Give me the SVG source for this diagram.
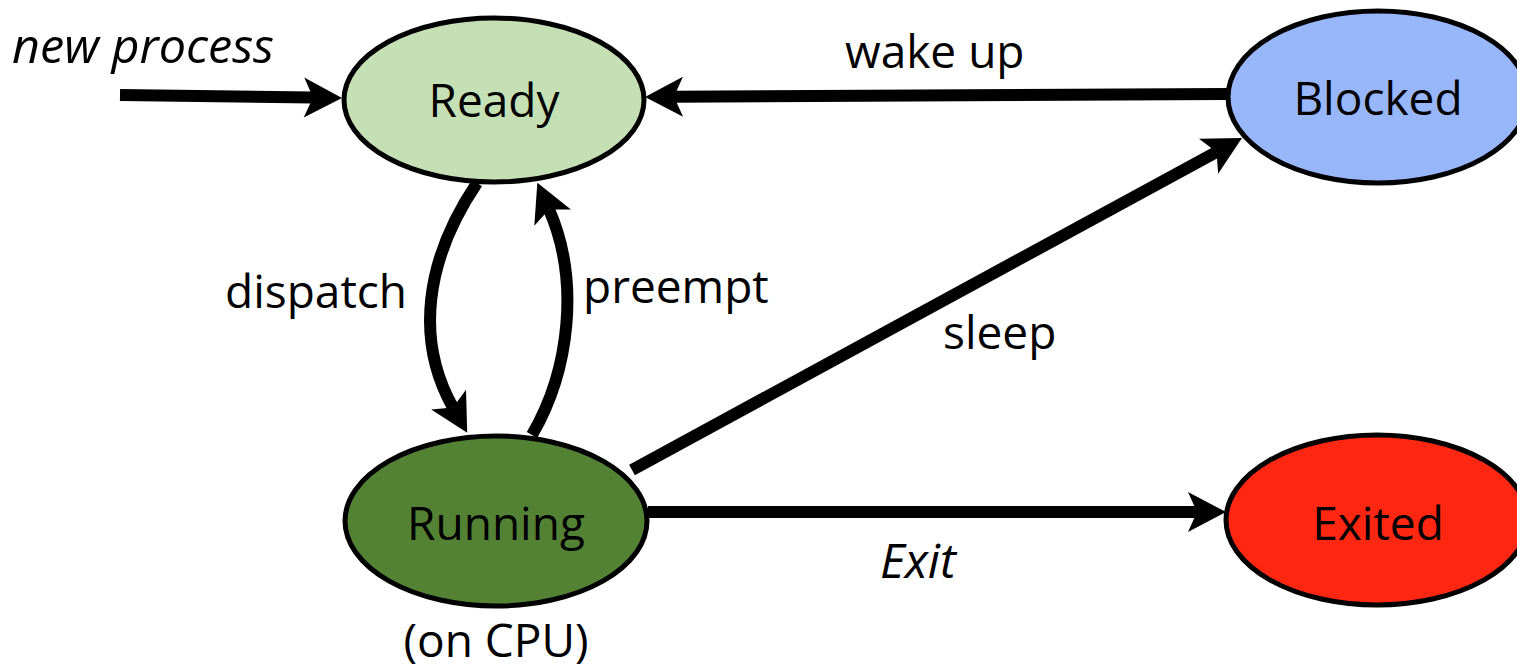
<svg xmlns="http://www.w3.org/2000/svg" width="1517" height="671" viewBox="0 0 1517 671">
  <style>
    .state { stroke: #000; stroke-width: 5; }
    .label { font-family: "Open Sans", "Noto Sans", "Liberation Sans", sans-serif; font-size: 46px; fill: #000; }
    .name { text-anchor: middle; }
    .it { font-style: italic; font-size: 48px; }
    .edge { fill: none; stroke: #000; stroke-width: 12; stroke-linecap: butt; }
  </style>
  <defs>
    <!-- notched arrowhead; the path ends at the notch (refX) -->
    <marker id="head" markerUnits="userSpaceOnUse" markerWidth="40" markerHeight="40" viewBox="0 0 40 40" refX="9" refY="20" orient="auto" overflow="visible">
      <path d="M0,0 L38,20 L0,40 L9,20 Z" fill="#000"/>
    </marker>
  </defs>

  <!-- transitions -->
  <g id="connectors">
    <path id="e-new" class="edge" d="M120,95 L313,97.6" marker-end="url(#head)"/>
    <path id="e-wake" class="edge" d="M1228,94 L674,96.8" marker-end="url(#head)"/>
    <path id="e-dispatch" class="edge" d="M477,183 C425,260 415,340 453,407.5" marker-end="url(#head)"/>
    <path id="e-preempt" class="edge" d="M532,435 C570,370 580,280 549,209.4" marker-end="url(#head)"/>
    <path id="e-sleep" class="edge" d="M632,470 L1216.5,151.9" marker-end="url(#head)"/>
    <path id="e-exit" class="edge" d="M648,512 L1197,512" marker-end="url(#head)"/>
    <text class="label it" x="12" y="63" textLength="262" lengthAdjust="spacingAndGlyphs">new process</text>
    <text class="label" x="845" y="68">wake up</text>
    <text class="label" x="225" y="308">dispatch</text>
    <text class="label" x="583" y="303">preempt</text>
    <text class="label" x="943" y="349">sleep</text>
    <text class="label it" x="880" y="578">Exit</text>
  </g>

  <!-- states -->
  <g id="ready">
    <ellipse class="state" cx="494" cy="100" rx="150" ry="82" fill="#C5E0B4"/>
    <text class="label name" x="494" y="117">Ready</text>
  </g>
  <g id="blocked">
    <ellipse class="state" cx="1378" cy="97" rx="150" ry="86" fill="#98B6FA"/>
    <text class="label name" x="1378" y="115">Blocked</text>
  </g>
  <g id="running">
    <ellipse class="state" cx="496" cy="521" rx="151" ry="85" fill="#548235"/>
    <text class="label name" x="496" y="540">Running</text>
    <text class="label name" x="496" y="657">(on CPU)</text>
  </g>
  <g id="exited">
    <ellipse class="state" cx="1377" cy="520" rx="151" ry="85" fill="#FF2712"/>
    <text class="label name" x="1378" y="540">Exited</text>
  </g>
</svg>
